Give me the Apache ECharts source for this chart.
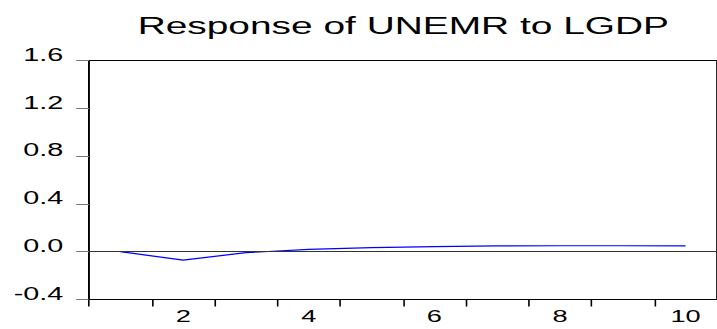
<!DOCTYPE html>
<html>
<head>
<meta charset="utf-8">
<script src="https://cdn.jsdelivr.net/npm/echarts@6/dist/echarts.min.js"></script>
<style>
  html, body { margin: 0; padding: 0; background: #fff; overflow: hidden; }
  /* chart is laid out narrow and stretched horizontally to the page width */
  #chart { width: 448px; height: 329px; transform: scaleX(1.6004); transform-origin: 0 0; }
</style>
</head>
<body>
<div id="chart"></div>
<script>
// impulse response periods and values
const periods = ['1', '2', '3', '4', '5', '6', '7', '8', '9', '10'];
const responses = [0.0, -0.07, -0.008, 0.02, 0.034, 0.043, 0.048, 0.05, 0.05, 0.049];
const titleText = 'Response of UNEMR to LGDP';
const yMin = -0.4, yMax = 1.6, yStep = 0.4;

const chart = echarts.init(document.getElementById('chart'), null, { renderer: 'svg' });
const font = 'Liberation Sans, Arial, sans-serif';

chart.setOption({
  animation: false,
  backgroundColor: '#fff',
  title: {
    text: titleText,
    left: 81,
    top: 9,
    textStyle: { fontFamily: font, fontSize: 24.3, fontWeight: 'normal', color: '#000' }
  },
  grid: {
    left: 55.6, right: -4.7, top: 60.5, bottom: 29.5,
    show: true, borderColor: '#000', borderWidth: 1, backgroundColor: 'transparent'
  },
  xAxis: {
    type: 'category',
    data: periods,
    boundaryGap: true,
    axisLine: { show: true, onZero: false, lineStyle: { color: '#000', width: 1 } },
    axisTick: { show: true, interval: 0, length: 7, lineStyle: { color: '#000', width: 1 } },
    axisLabel: {
      interval: (i) => i % 2 === 1,
      margin: 8,
      fontFamily: font, fontSize: 17, color: '#000'
    },
    splitLine: { show: false }
  },
  yAxis: {
    type: 'value',
    min: yMin, max: yMax, interval: yStep,
    axisLine: { show: true, onZero: false, lineStyle: { color: '#000', width: 1 } },
    axisTick: { show: true, length: 8, lineStyle: { color: '#777', width: 1 } },
    axisLabel: {
      formatter: (v) => v.toFixed(1),
      margin: 16,
      verticalAlign: 'bottom',
      lineHeight: 12,
      fontFamily: font, fontSize: 18, color: '#000'
    },
    splitLine: { show: false }
  },
  series: [{
    type: 'line',
    data: responses,
    symbol: 'none',
    lineStyle: { color: '#0000ff', width: 1.2 },
    markLine: {
      silent: true,
      symbol: 'none',
      label: { show: false },
      lineStyle: { color: '#333', width: 1, type: 'solid' },
      data: [{ yAxis: 0 }]
    }
  }]
});
</script>
</body>
</html>
